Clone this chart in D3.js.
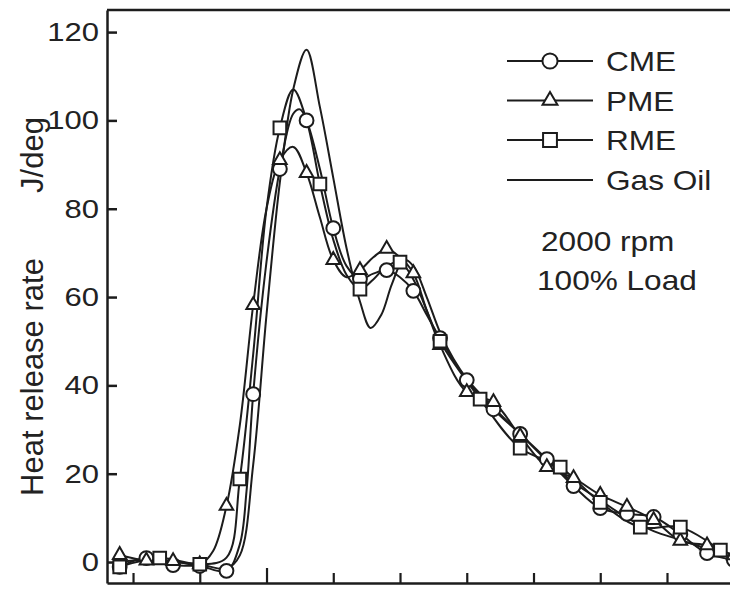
<!DOCTYPE html>
<html>
<head>
<meta charset="utf-8">
<script src="https://cdn.jsdelivr.net/npm/d3@7"></script>
<style>
body { margin: 0; background: #fff; }
svg { display: block; }
text { font-family: "Liberation Sans", Arial, sans-serif; fill: #222; }
</style>
</head>
<body>
<svg id="chart" width="730" height="589"></svg>
<script>
// crank angle (deg) and heat release rate (J/deg)
var cmeAngle = [-11, -9, -7, -5, -3, -2, -1.5, -1, 0, 1, 2, 2.5, 3, 4, 5, 6, 7, 8, 9, 10, 11, 12, 13, 15, 17, 19, 21, 23, 25, 27, 29, 31, 33, 35];
var cmeValue = [-1.1, 0.9, -0.7, -0.9, -2.0, 4, 16, 38, 68, 89, 101.5, 102.5, 100, 89, 75.6, 67, 64.1, 65.3, 66.1, 64.5, 61.4, 56, 50.7, 41.2, 34.6, 29.0, 23.3, 17.2, 12.2, 10.9, 10.2, 6.3, 2.0, 0.5];
var cmeMarks = [-11, -9, -7, -5, -3, -1, 1, 3, 5, 7, 9, 11, 13, 15, 17, 19, 21, 23, 25, 27, 29, 31, 33, 35];

var pmeAngle = [-11, -9, -7, -5, -4, -3, -2, -1, 0, 1, 2, 3, 4, 5, 6, 7, 8, 9, 10, 11, 12, 13, 15, 17, 19, 21, 23, 25, 27, 29, 31, 33, 35];
var pmeValue = [1.6, 0.3, 0.2, -0.5, 2.5, 12.7, 31, 58.2, 80, 91, 94, 88.1, 78, 68.4, 64.5, 66.1, 69, 70.9, 69, 65.4, 57, 49.1, 38.5, 36.2, 28.5, 21.5, 19.0, 15.2, 12.5, 9.5, 4.8, 3.8, 1.5];
var pmeMarks = [-11, -9, -7, -5, -3, -1, 1, 3, 5, 7, 9, 11, 13, 15, 17, 19, 21, 23, 25, 27, 29, 31, 33, 35];

var rmeAngle = [-11, -8, -5, -3, -2, -1, 0, 1, 2, 3, 4, 5, 6, 7, 8, 9, 10, 11, 12, 13, 16, 19, 22, 25, 28, 31, 34];
var rmeValue = [-1.1, 0.9, -0.5, 1, 18.8, 47, 80, 98.3, 107, 100, 85.6, 73, 65, 61.8, 64, 67, 67.9, 64, 57, 50, 36.9, 25.8, 21.5, 13.5, 7.9, 7.9, 2.7];
var rmeMarks = [-11, -8, -5, -2, 1, 4, 7, 10, 13, 16, 19, 22, 25, 28, 31, 34];

var gasAngle = [-11, -9, -7, -5, -3, -2, -1, 0, 1, 2, 3, 4, 5, 6, 7, 7.8, 8.6, 9.4, 10.3, 11, 12, 13, 14, 15, 17, 19, 21, 23, 25, 27, 29, 31, 33, 35];
var gasValue = [0, 0.5, 0, -0.5, -1.5, 1.5, 22, 56, 86, 107, 116, 103, 87, 71, 59, 53, 56, 63, 68.5, 67, 60, 52, 46, 41.5, 35, 29, 23, 18, 14, 10, 7, 5, 3, 1];

var yTicks = [0, 20, 40, 60, 80, 100, 120];
var xTicks = [-10, -5, 0, 5, 10, 15, 20, 25, 30];

var legendNames = ["CME", "PME", "RME", "Gas Oil"];
var noteLines = ["2000 rpm", "100% Load"];

var INK = "#1c1c1c";
var STRETCH = 1.17; // the scanned figure is a little wide

var svg = d3.select("#chart");

var x = d3.scaleLinear().domain([-11.95, 34.72]).range([107, 730]);
var y = d3.scaleLinear().domain([-4.75, 125]).range([583, 10]);

function zip(angles, values) {

	return angles.map(function(a, i) {
		return {
			angle : a,
			value : values[i]
		};
	});

}// END: zip

var series = [ {
	name : "CME",
	points : zip(cmeAngle, cmeValue),
	marks : cmeMarks,
	symbol : d3.symbolCircle,
	size : 150
}, {
	name : "PME",
	points : zip(pmeAngle, pmeValue),
	marks : pmeMarks,
	symbol : d3.symbolTriangle,
	size : 80
}, {
	name : "RME",
	points : zip(rmeAngle, rmeValue),
	marks : rmeMarks,
	symbol : d3.symbolSquare,
	size : 160
}, {
	name : "Gas Oil",
	points : zip(gasAngle, gasValue),
	marks : [],
	symbol : null,
	size : 0
} ];

// axes
var yAxis = d3.axisLeft(y).tickValues(yTicks).tickSizeInner(-10)
		.tickSizeOuter(0).tickPadding(8);
var gy = svg.append("g").attr("transform", "translate(107,0)").call(yAxis);
gy.select(".domain").attr("stroke", INK).attr("stroke-width", 2.5);
gy.selectAll(".tick line").attr("stroke", INK).attr("stroke-width", 2.5);
gy.selectAll(".tick text") //
.attr("font-size", 26.5) //
.attr("fill", "#222") //
.attr("x", -8 / STRETCH) //
.attr("transform", "scale(" + STRETCH + ",1)");

var xAxis = d3.axisBottom(x).tickValues(xTicks).tickSizeInner(-10)
		.tickSizeOuter(0).tickFormat("");
var gx = svg.append("g").attr("transform", "translate(0,583)").call(xAxis);
gx.select(".domain").attr("stroke", INK).attr("stroke-width", 2.5);
gx.selectAll(".tick line").attr("stroke", INK).attr("stroke-width", 2.2) //
.attr("y2", function(d) {
	return (d === 0 ? -15 : -10);
});

// top frame
svg.append("line").attr("x1", 107).attr("x2", 730).attr("y1", 10).attr("y2",
		10).attr("stroke", INK).attr("stroke-width", 2.5);

// axis title
svg.append("text").attr("transform", "translate(43,377) rotate(-90)")
		.attr("text-anchor", "middle").attr("font-size", 31).text(
				"Heat release rate");
svg.append("text").attr("transform", "translate(43,155) rotate(-90)")
		.attr("text-anchor", "middle").attr("font-size", 31).text("J/deg");

// curves
var line = d3.line().x(function(d) {
	return (x(d.angle));
}).y(function(d) {
	return (y(d.value));
}).curve(d3.curveCatmullRom.alpha(0.5));

svg.append("g").selectAll("path").data(series).enter().append("path") //
.attr("d", function(d) {
	return (line(d.points));
}) //
.attr("fill", "none") //
.attr("stroke", INK) //
.attr("stroke-width", 2);

// markers
series.forEach(function(s) {

	var marked = s.points.filter(function(p) {
		return (s.marks.indexOf(p.angle) >= 0);
	});

	svg.append("g").selectAll("path").data(marked).enter().append("path") //
	.attr("d", d3.symbol().type(s.symbol).size(s.size)) //
	.attr("transform", function(d) {
		return ("translate(" + x(d.angle) + "," + y(d.value) + ")");
	}) //
	.attr("fill", "#fff") //
	.attr("stroke", INK) //
	.attr("stroke-width", 2);

});// END: markers

// legend
var legendRows = [ 61, 100.5, 140, 180 ];
var legend = svg.append("g").selectAll("g").data(series).enter()
		.append("g").attr("transform", function(d, i) {
			return ("translate(0," + legendRows[i] + ")");
		});

legend.append("line").attr("x1", 507).attr("x2", 593).attr("stroke", INK)
		.attr("stroke-width", 2);

legend.filter(function(d) {
	return (d.symbol !== null);
}).append("path") //
.attr("d", function(d) {
	return (d3.symbol().type(d.symbol).size(d.size * 1.2)());
}) //
.attr("transform", "translate(550,0)") //
.attr("fill", "#fff") //
.attr("stroke", INK) //
.attr("stroke-width", 2);

legend.append("text") //
.attr("transform", "translate(606,10) scale(" + STRETCH + ",1)") //
.attr("font-size", 27) //
.text(function(d, i) {
	return (legendNames[i]);
});

// operating point note
var noteX = [ 541, 537 ];
var noteY = [ 251, 290 ];
svg.append("g").selectAll("text").data(noteLines).enter().append("text") //
.attr("transform", function(d, i) {
	return ("translate(" + noteX[i] + "," + noteY[i] + ") scale(" + STRETCH + ",1)");
}) //
.attr("font-size", 27) //
.text(function(d) {
	return (d);
});
</script>
</body>
</html>
